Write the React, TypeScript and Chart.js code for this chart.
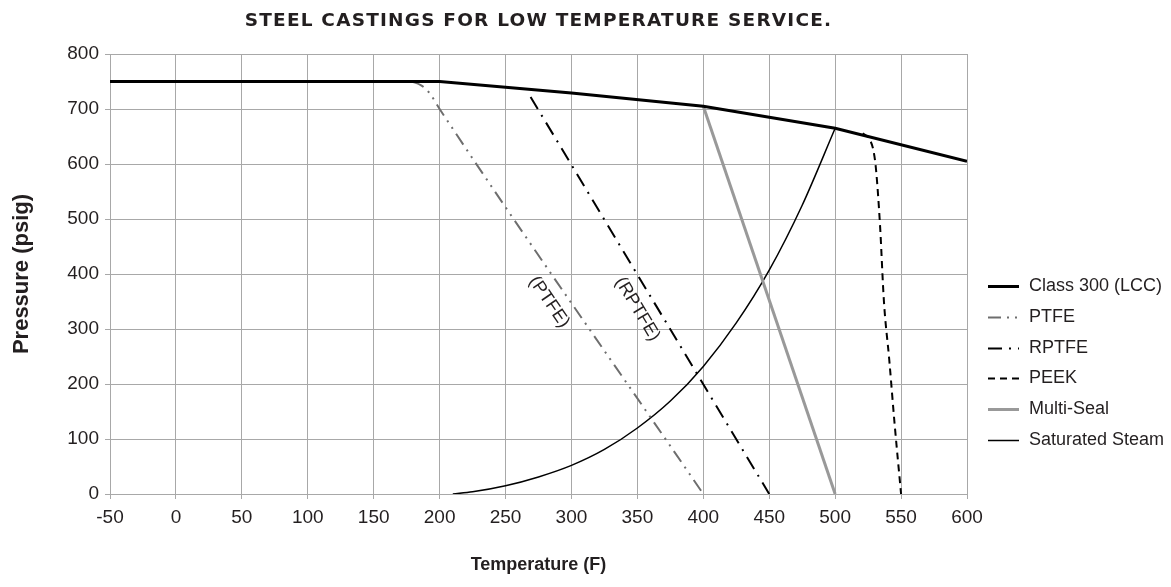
import React, { useEffect, useRef } from 'react';
import { Chart, registerables } from 'chart.js';

Chart.register(...registerables);

const chartTitle = 'STEEL CASTINGS FOR LOW TEMPERATURE SERVICE.';
const xAxisTitle = 'Temperature (F)';
const yAxisTitle = 'Pressure (psig)';

const xMin = -50;
const xMax = 600;
const xStep = 50;
const yMin = 0;
const yMax = 800;
const yStep = 100;

const seriesNames = ['Class 300 (LCC)', 'PTFE', 'RPTFE', 'PEEK', 'Multi-Seal', 'Saturated Steam'];

const class300Temp = [-50, 200, 300, 400, 500, 600];
const class300Press = [750, 750, 729, 705, 665, 605];

const ptfeTemp = [179, 186, 192, 200, 400];
const ptfePress = [750, 743, 730, 700, 0];

const rptfeTemp = [269, 450];
const rptfePress = [722, 0];

const peekTemp = [521, 526, 529, 531, 534, 537, 541, 545, 550];
const peekPress = [656, 645, 625, 590, 490, 350, 245, 130, 0];

const multiSealTemp = [400, 500];
const multiSealPress = [705, 0];

const steamTemp = [210, 225, 250, 275, 300, 325, 350, 375, 400, 425, 450, 475, 500];
const steamPress = [0, 4, 15, 31, 52, 81, 120, 169, 232, 311, 407, 525, 665];

const inlineLabels = ['(PTFE)', '(RPTFE)'];
const inlineLabelTemp = [283, 350];
const inlineLabelPress = [349, 336];
const inlineLabelSeries = [1, 2];

const FONT = '"Liberation Sans", Arial, sans-serif';
const TEXT = '#231f20';
const GRID = '#a8a8a8';

function pts(xs: number[], ys: number[]) {
  return xs.map((x, i) => ({ x, y: ys[i] }));
}

const overlayPlugin = {
  id: 'overlay',
  afterDraw(chart: any) {
    const ctx = chart.ctx as CanvasRenderingContext2D;
    const area = chart.chartArea;
    const xs = chart.scales.x;
    const ys = chart.scales.y;

    // title centered over plot area
    ctx.save();
    ctx.font = 'bold 18.5px "DejaVu Sans", sans-serif';
    (ctx as any).letterSpacing = '1.2px';
    ctx.fillStyle = TEXT;
    ctx.textAlign = 'center';
    ctx.textBaseline = 'middle';
    ctx.fillText(chartTitle, (area.left + area.right) / 2, 21);
    ctx.restore();

    // inline rotated labels
    inlineLabels.forEach((txt, i) => {
      const ds = chart.data.datasets[inlineLabelSeries[i]].data as any[];
      const a = ds[ds.length - 2];
      const b = ds[ds.length - 1];
      const ang = Math.atan2(
        ys.getPixelForValue(b.y) - ys.getPixelForValue(a.y),
        xs.getPixelForValue(b.x) - xs.getPixelForValue(a.x)
      );
      const px = xs.getPixelForValue(inlineLabelTemp[i]);
      const py = ys.getPixelForValue(inlineLabelPress[i]);
      ctx.save();
      ctx.translate(px, py);
      ctx.rotate(ang);
      ctx.font = `18px ${FONT}`;
      ctx.fillStyle = TEXT;
      ctx.textAlign = 'center';
      ctx.textBaseline = 'middle';
      ctx.fillText(txt, 0, 0);
      ctx.restore();
    });

    // legend
    const lx0 = area.right + 21;
    const lx1 = lx0 + 31;
    const tx = lx1 + 10;
    const y0 = 286;
    const dy = 30.8;
    chart.data.datasets.forEach((d: any, i: number) => {
      const y = Math.round(y0 + i * dy) + 0.5;
      ctx.save();
      ctx.strokeStyle = d.borderColor;
      ctx.lineWidth = d.borderWidth;
      ctx.setLineDash(d.borderDash || []);
      ctx.beginPath();
      ctx.moveTo(lx0, y);
      ctx.lineTo(lx1, y);
      ctx.stroke();
      ctx.setLineDash([]);
      ctx.font = `18px ${FONT}`;
      ctx.fillStyle = TEXT;
      ctx.textAlign = 'left';
      ctx.textBaseline = 'middle';
      ctx.fillText(d.label, tx, y);
      ctx.restore();
    });
  },
};

export default function App() {
  const ref = useRef<HTMLCanvasElement>(null);

  useEffect(() => {
    if (!ref.current) return;
    const chart = new Chart(ref.current, {
      type: 'line',
      data: {
        datasets: [
          {
            label: seriesNames[0],
            data: pts(class300Temp, class300Press),
            borderColor: '#000000',
            borderWidth: 3,
            pointRadius: 0,
            fill: false,
            tension: 0,
          },
          {
            label: seriesNames[1],
            data: pts(ptfeTemp, ptfePress),
            borderColor: '#6e6e6e',
            borderWidth: 2,
            borderDash: [13, 6, 2, 6, 2, 6],
            pointRadius: 0,
            fill: false,
            cubicInterpolationMode: 'monotone',
          },
          {
            label: seriesNames[2],
            data: pts(rptfeTemp, rptfePress),
            borderColor: '#000000',
            borderWidth: 2,
            borderDash: [14, 7, 2, 7],
            pointRadius: 0,
            fill: false,
            tension: 0,
          },
          {
            label: seriesNames[3],
            data: pts(peekTemp, peekPress),
            borderColor: '#000000',
            borderWidth: 2,
            borderDash: [7, 5],
            pointRadius: 0,
            fill: false,
            cubicInterpolationMode: 'monotone',
          },
          {
            label: seriesNames[4],
            data: pts(multiSealTemp, multiSealPress),
            borderColor: '#999999',
            borderWidth: 3,
            pointRadius: 0,
            fill: false,
            tension: 0,
          },
          {
            label: seriesNames[5],
            data: pts(steamTemp, steamPress),
            borderColor: '#000000',
            borderWidth: 1.5,
            pointRadius: 0,
            fill: false,
            cubicInterpolationMode: 'monotone',
          },
        ],
      },
      options: {
        animation: false,
        responsive: false,
        maintainAspectRatio: false,
        layout: { padding: { top: 54, right: 204, bottom: 0, left: 0 } },
        plugins: {
          legend: { display: false },
          title: { display: false },
          tooltip: { enabled: false },
        },
        scales: {
          x: {
            type: 'linear',
            min: xMin,
            max: xMax,
            ticks: {
              stepSize: xStep,
              color: TEXT,
              font: { family: FONT, size: 19 },
              padding: 7,
              maxRotation: 0,
            },
            grid: { color: GRID, tickLength: 5, tickColor: GRID },
            border: { display: true, color: GRID },
            title: {
              display: true,
              text: xAxisTitle,
              color: TEXT,
              font: { family: FONT, size: 18, weight: 'bold' },
              padding: { top: 4, bottom: 11 },
            },
            afterFit: (s: any) => {
              s.height = 93;
            },
          },
          y: {
            type: 'linear',
            min: yMin,
            max: yMax,
            ticks: {
              stepSize: yStep,
              color: TEXT,
              font: { family: FONT, size: 19 },
              padding: 6,
            },
            grid: { color: GRID, tickLength: 5, tickColor: GRID },
            border: { display: true, color: GRID },
            title: {
              display: true,
              text: yAxisTitle,
              color: TEXT,
              font: { family: FONT, size: 22, weight: 'bold' },
              padding: { top: 9, bottom: 4 },
            },
            afterFit: (s: any) => {
              s.width = 110;
            },
          },
        },
      },
      plugins: [overlayPlugin],
    } as any);
    return () => chart.destroy();
  }, []);

  return (
    <div style={{ position: 'fixed', left: 0, top: 0, width: 1171, height: 587, background: '#fff' }}>
      <canvas ref={ref} width={1171} height={587} style={{ display: 'block' }} />
    </div>
  );
}
